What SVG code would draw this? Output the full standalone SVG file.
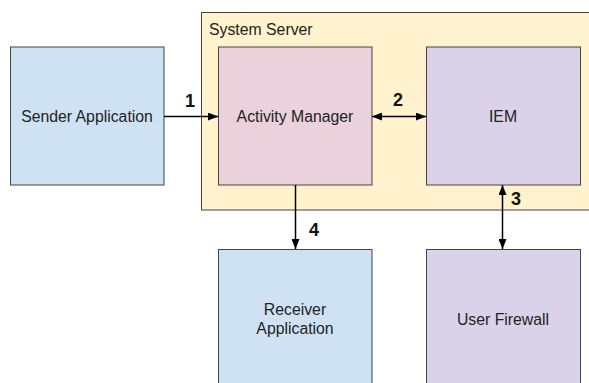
<svg xmlns="http://www.w3.org/2000/svg" width="589" height="383" viewBox="0 0 589 383">
<style>
.box{stroke:#444;stroke-width:1}
.t{font-family:"Liberation Sans",Arial,sans-serif;font-size:15.8px;fill:#222;text-anchor:middle}
.n{font-family:"Liberation Sans",Arial,sans-serif;font-size:18px;font-weight:bold;fill:#111}
.c{stroke:#000;stroke-width:1.5;fill:none}
</style>
<defs>
<marker id="ah" viewBox="0 0 10 8" refX="10" refY="4" markerWidth="10" markerHeight="8" markerUnits="userSpaceOnUse" orient="auto-start-reverse">
<path d="M0,0 L10,4 L0,8 Z" fill="#000"/>
</marker>
</defs>
<rect width="589" height="383" fill="#fff"/>
<g id="system-server">
<rect class="box" x="201.5" y="12.5" width="390" height="197.5" fill="#fff2cc"/>
<text x="209" y="35" class="t" style="text-anchor:start">System Server</text>
</g>
<g id="sender">
<rect class="box" x="10.5" y="47" width="153.5" height="138" fill="#cfe2f3"/>
<text x="87" y="122" class="t">Sender Application</text>
</g>
<g id="activity-manager">
<rect class="box" x="218.5" y="47" width="153.5" height="138" fill="#ead1dc"/>
<text x="295" y="122" class="t">Activity Manager</text>
</g>
<g id="iem">
<rect class="box" x="426.5" y="47" width="154" height="138" fill="#d9d2e9"/>
<text x="503" y="122" class="t">IEM</text>
</g>
<g id="receiver">
<rect class="box" x="218.5" y="249.5" width="153.5" height="140" fill="#cfe2f3"/>
<text x="295" y="315" class="t">Receiver</text>
<text x="295" y="334" class="t">Application</text>
</g>
<g id="firewall">
<rect class="box" x="426.5" y="249.5" width="154" height="140" fill="#d9d2e9"/>
<text x="503" y="325" class="t">User Firewall</text>
</g>
<g id="connectors">
<line class="c" x1="164" y1="116.5" x2="218" y2="116.5" marker-end="url(#ah)"/>
<line class="c" x1="372" y1="116.5" x2="426" y2="116.5" marker-start="url(#ah)" marker-end="url(#ah)"/>
<line class="c" x1="502.5" y1="185" x2="502.5" y2="249" marker-start="url(#ah)" marker-end="url(#ah)"/>
<line class="c" x1="295.5" y1="185" x2="295.5" y2="249" marker-end="url(#ah)"/>
<text x="185" y="107" class="n">1</text>
<text x="393" y="106" class="n">2</text>
<text x="511" y="205" class="n">3</text>
<text x="309" y="236" class="n">4</text>
</g>
</svg>
